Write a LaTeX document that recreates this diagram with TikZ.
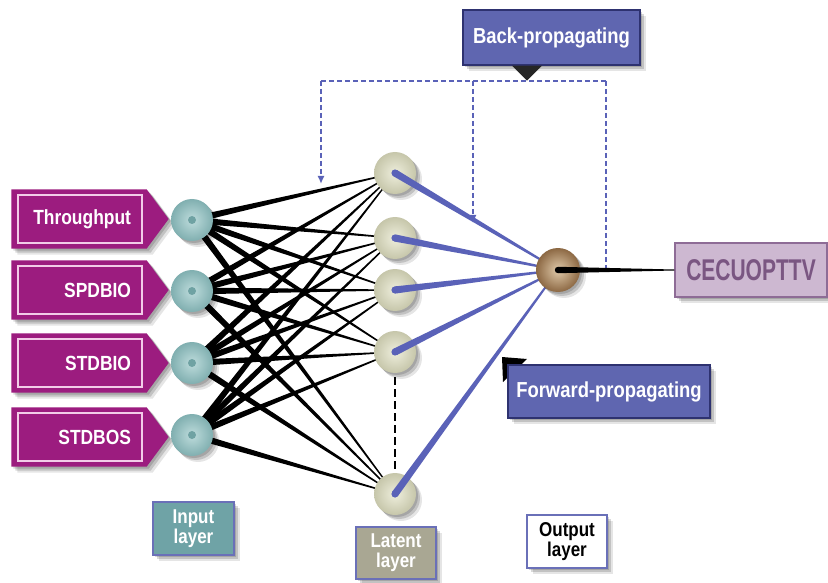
\documentclass[tikz,border=0pt]{standalone}
\usepackage{fontspec}
\setmainfont{Liberation Sans}[FakeStretch=0.85]
\newfontfamily\narrowfont{Liberation Sans}[FakeStretch=0.70]
\usetikzlibrary{calc,shadows,arrows.meta,backgrounds}
\definecolor{magC}{HTML}{9C1C7F}
\definecolor{pinkL}{HTML}{F2CCE8}
\definecolor{tealL}{HTML}{BEDCDC}
\definecolor{tealD}{HTML}{80AFB0}
\definecolor{tealDot}{HTML}{6FA2A3}
\definecolor{latL}{HTML}{EEEEDC}
\definecolor{latD}{HTML}{C6C6AA}
\definecolor{outL}{HTML}{E0CAAA}
\definecolor{outD}{HTML}{8C6843}
\definecolor{blueE}{HTML}{5A62B8}
\definecolor{boxBlue}{HTML}{5F66B0}
\definecolor{boxBorder}{HTML}{2E3270}
\definecolor{cecFill}{HTML}{CDB8D1}
\definecolor{cecBorder}{HTML}{8E6C96}
\definecolor{cecText}{HTML}{7A5682}
\definecolor{inLay}{HTML}{6FA3A6}
\definecolor{layBorder}{HTML}{6A70B8}
\definecolor{latLay}{HTML}{A9A793}
\newcommand{\labfont}{\fontsize{20.5}{22}\selectfont\bfseries}
\newcommand{\bigfont}{\fontsize{21.7}{23}\selectfont\bfseries}
\newcommand{\layfont}{\fontsize{20}{21}\selectfont\bfseries}
% tapered connector: from, to, half width at start, half width at end, colour
\newcommand{\taper}[5]{%
  \fill[#5] ($(#1)!#3!90:(#2)$) -- ($(#2)!#4!-90:(#1)$) -- ($(#2)!#4!90:(#1)$) -- ($(#1)!#3!-90:(#2)$) -- cycle;}
\begin{document}
\begin{tikzpicture}[x=1pt,y=-1pt,
  every node/.style={inner sep=0pt},
  shad/.style={drop shadow={shadow xshift=6pt,shadow yshift=-6pt,opacity=0.10,fill=black},
               drop shadow={shadow xshift=4pt,shadow yshift=-4pt,opacity=0.15,fill=black},
               drop shadow={shadow xshift=2pt,shadow yshift=-2pt,opacity=0.15,fill=black}},
  inlabel/.style={rectangle,fill=magC,draw=pinkL,line width=1.3pt,minimum width=124pt,minimum height=48pt,
    text width=102pt,align=right,text=white,font=\labfont},
  inball/.style={circle,minimum size=42pt,inner color=tealL,outer color=tealD,shad,
    path picture={\fill[tealDot] (path picture bounding box.center) circle (4pt);}},
  latball/.style={circle,minimum size=42pt,inner color=latL,outer color=latD,shad},
  outball/.style={circle,minimum size=44pt,inner color=outL,outer color=outD,shad},
  bluebox/.style={rectangle,fill=boxBlue,draw=boxBorder,line width=1.2pt,text=white,font=\bigfont,shad},
  laybox/.style={rectangle,draw=layBorder,line width=1.5pt,font=\layfont,align=center,shad,
    minimum width=80pt,minimum height=53pt},
  backline/.style={blueE,line width=1.8pt,dash pattern=on 5pt off 3pt},
  tipA/.style={-{Latex[length=8pt,width=7pt]}}
]
\useasboundingbox (0,0) rectangle (828,583);

% input labels
\node[inlabel] (t1) at (80,219) {Throughput};
\node[inlabel] (t2) at (80,290) {SPDBIO};
\node[inlabel] (t3) at (80,363) {STDBIO};
\node[inlabel] (t4) at (80,437) {STDBOS};

% input neurons
\node[inball] (i1) at (192,220) {};
\node[inball] (i2) at (192,291) {};
\node[inball] (i3) at (192,363) {};
\node[inball] (i4) at (192,435) {};

% latent neurons
\node[latball] (l1) at (395,173) {};
\node[latball] (l2) at (395,238) {};
\node[latball] (l3) at (395,290) {};
\node[latball] (l4) at (395,352) {};
\node[latball] (l5) at (395,494) {};

\begin{scope}[on background layer]
\fill[white] (0,0) rectangle (828,583);
\foreach \t in {t1,t2,t3,t4}{
  \fill[magC,shad] ([shift={(-6,-5)}]\t.north west) -- ([shift={(4,-5)}]\t.north east)
    -- ([shift={(26,0)}]\t.east) -- ([shift={(4,5)}]\t.south east) -- ([shift={(-6,5)}]\t.south west) -- cycle;
}
% input -> latent connections (tapered)
\foreach \i in {i1,i2,i3,i4}{
  \foreach \l in {l1,l2,l3,l4,l5}{
    \taper{\i.center}{\l.center}{3.4pt}{0.5pt}{black}
  }
}
\end{scope}

% output neuron (position) and label
\node[circle,minimum size=44pt] (o) at (558,270) {};
\node[rectangle,fill=cecFill,draw=cecBorder,line width=1.5pt,minimum width=152pt,minimum height=54pt,
  text=cecText,font=\narrowfont\fontsize{30}{31}\selectfont\bfseries,shad] (cec) at (751,270) {CECUOPTTV};

% latent -> output connections (tapered, blue)
\foreach \l in {l1,l2,l3,l4,l5}{
  \taper{\l.center}{o.center}{3.6pt}{0.8pt}{blueE}
  \fill[blueE] (\l.center) circle (3.6pt);
}
\node[outball] at (o.center) {};

% back-propagating
\node[bluebox,minimum width=177pt,minimum height=55pt] (bp) at (551.5,37.5) {Back-propagating};
\fill[black!85] ([xshift=-39.5pt]bp.south) -- ([xshift=-9.5pt]bp.south) -- ([shift={(-24.5,15)}]bp.south) coordinate (bptip) -- cycle;
\coordinate (b1) at (321,81);
\coordinate (b2) at (473,81);
\coordinate (b3) at (606,81);
\coordinate (a1) at (321,184);
\coordinate (a2) at (473,223);
\coordinate (a3) at (606,268);
\draw[backline] (b1) -- (b3);
\draw[backline,tipA] (b1) -- (a1);
\draw[backline,tipA] (b2) -- (a2);
\draw[backline] (b3) -- (a3);

% output -> label
\taper{o.center}{cec.west}{3.2pt}{0.5pt}{black}
\fill[black] (o.center) circle (3.2pt);

% ellipsis between latent neurons
\draw[black,line width=2pt,dash pattern=on 8pt off 4pt] ([yshift=-4pt]l4.south) -- ([yshift=4pt]l5.north);

% forward-propagating
\fill[black] (502,357) -- (527,359) -- (503,382) -- cycle;
\node[bluebox,minimum width=202pt,minimum height=53pt] (fp) at (609,391.5) {Forward-propagating};

% layer captions
\node[laybox,fill=inLay,text=white,minimum width=81pt] (il) at (193.5,528.5) {Input\\[-1pt]layer};
\node[laybox,fill=latLay,text=white,minimum height=52pt] (ll) at (396,553) {Latent\\[-1pt]layer};
\node[laybox,fill=white,text=black] (ol) at (567,541.5) {Output\\[-1pt]layer};
\end{tikzpicture}
\end{document}
